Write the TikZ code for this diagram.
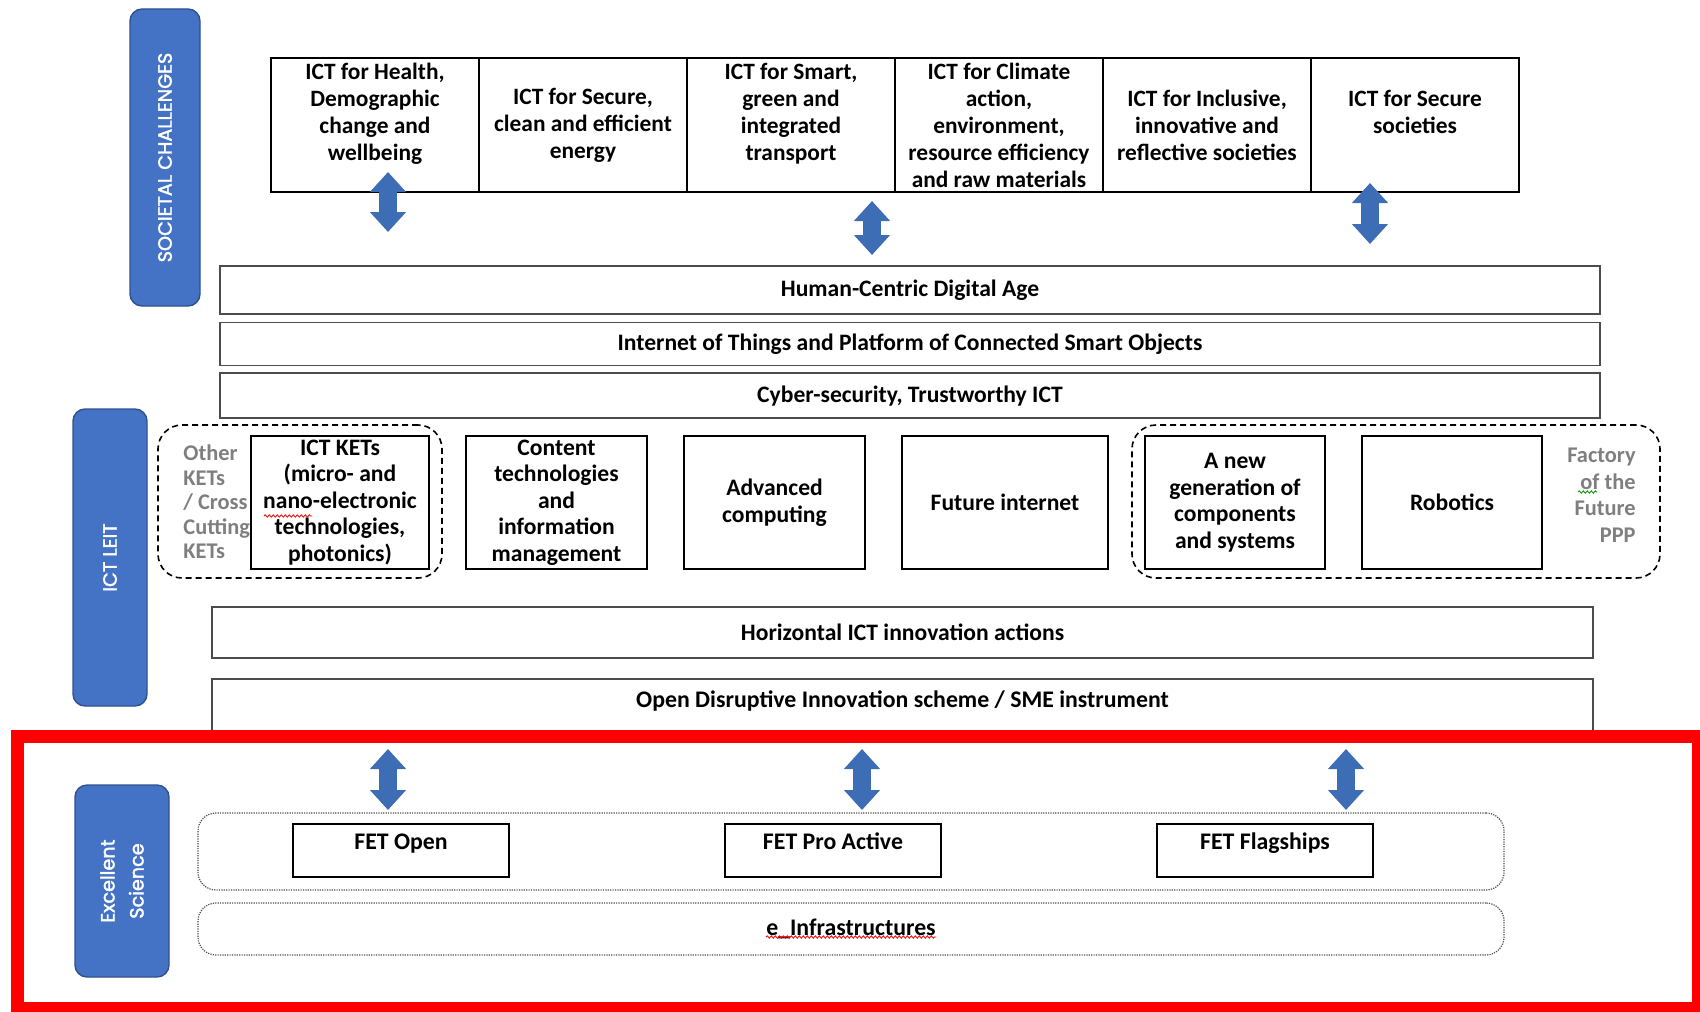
\documentclass[tikz,border=0pt]{standalone}
\usepackage{fontspec}
\setmainfont{Carlito}
\newfontfamily\pillarfont{Poppins}[FakeBold=2]
\usepackage{tikz}
\usetikzlibrary{positioning, arrows.meta, decorations.pathmorphing}

\definecolor{pillarblue}{HTML}{4472C4}
\definecolor{pillarline}{HTML}{2F528F}
\definecolor{arrowblue}{HTML}{3D6DB5}
\definecolor{notegray}{HTML}{7F7F7F}

\begin{document}
\begin{tikzpicture}[x=0.5pt, y=-0.5pt, node distance=18.5pt,
    pillar/.style={draw=pillarline, fill=pillarblue, line width=0.7pt, rounded corners=6pt,
      rotate=90, text=white, align=center, inner sep=0pt, font=\pillarfont\fontsize{9.6}{14.5}\selectfont},
    chcell/.style={draw, line width=0.7pt, outer sep=0pt, inner sep=0pt, minimum width=104pt,
      minimum height=67pt, align=center, font=\bfseries\fontsize{11.7}{13.5}\selectfont},
    bar/.style={draw=black!70, line width=0.8pt, inner sep=0pt, minimum width=690pt,
      font=\bfseries\fontsize{11.8}{13.5}\selectfont},
    leitbox/.style={draw, line width=0.7pt, outer sep=0pt, inner sep=0pt, minimum width=90pt, minimum height=66.5pt,
      align=center, font=\bfseries\fontsize{11.8}{13.25}\selectfont},
    group/.style={draw, dashed, line width=0.8pt, dash pattern=on 3pt off 2pt, rounded corners=12pt},
    note/.style={text=notegray, inner sep=0pt, font=\bfseries\fontsize{11.2}{13.25}\selectfont},
    fetgroup/.style={draw=black!70, line width=0.6pt, dash pattern=on 0.6pt off 0.6pt, rounded corners=9pt, minimum width=653pt},
    fetbox/.style={draw, line width=0.7pt, outer sep=0pt, inner sep=0pt, minimum width=108pt, minimum height=26.5pt},
    boxtext/.style={inner sep=0pt, font=\bfseries\fontsize{11.9}{13.5}\selectfont},
    updown/.style={arrowblue, line width=9pt, {Triangle[length=10pt,width=17.5pt]}-{Triangle[length=10pt,width=17.5pt]}},
    spell/.style={line width=0.4pt, decorate, decoration={snake, amplitude=0.6pt, segment length=2pt}}]
  \useasboundingbox (0,0) rectangle (1700,1011);

  % pillars
  \node[pillar, minimum width=148.5pt, minimum height=35pt] (societal) at (165,157.5) {SOCIETAL CHALLENGES};
  \node[pillar, minimum width=148.5pt, minimum height=37pt] (leit) at (110,557.5) {ICT LEIT};
  \node[pillar, minimum width=96pt, minimum height=47pt] (science) at (122,881) {Excellent\\Science};

  % societal challenges
  \node[chcell] (health) at (375,125) {ICT for Health,\\Demographic\\change and\\wellbeing\\\mbox{}};
  \node[chcell, right=0pt of health] (energy) {ICT for Secure,\\clean and efficient\\energy};
  \node[chcell, right=0pt of energy] (transport) {ICT for Smart,\\green and\\integrated\\transport\\\mbox{}};
  \node[chcell, right=0pt of transport] (climate) {ICT for Climate\\action,\\environment,\\resource efficiency\\and raw materials};
  \node[chcell, right=0pt of climate] (inclusive) {ICT for Inclusive,\\innovative and\\reflective societies};
  \node[chcell, right=0pt of inclusive] (secure) {ICT for Secure\\societies\\\mbox{}};

  % horizontal layers
  \node[bar, minimum height=24pt] (human) at (910,290) {Human-Centric Digital Age};
  \node[bar, minimum height=21.5pt, below=3.5pt of human] (iot) {Internet of Things and Platform of Connected Smart Objects};
  \node[bar, minimum height=22.5pt, below=3pt of iot] (cyber) {Cyber-security, Trustworthy ICT};

  \coordinate (sc1t) at (388,172);  \coordinate (sc1b) at (388,232);
  \coordinate (sc2t) at (872,201);  \coordinate (sc2b) at (872,255);
  \coordinate (sc3t) at (1370,183); \coordinate (sc3b) at (1370,244);
  \draw[updown] (sc1t) -- (sc1b);
  \draw[updown] (sc2t) -- (sc2b);
  \draw[updown] (sc3t) -- (sc3b);

  % ICT LEIT
  \node[group, minimum width=142pt, minimum height=76.5pt] (ketsgroup) at (300,501.5) {};
  \node[group, minimum width=264pt, minimum height=76.5pt] (fofgroup) at (1396,501.5) {};
  \node[leitbox, minimum width=89pt] (kets) at (340,502.5) {ICT KETs\\(micro- and\\nano-electronic\\technologies,\\photonics)};
  \node[leitbox, minimum width=90.5pt, right=of kets] (content) {Content\\technologies\\and\\information\\management};
  \node[leitbox, minimum width=90.5pt, right=of content] (computing) {Advanced\\computing};
  \node[leitbox, minimum width=103pt, right=of computing] (internet) {Future internet};
  \node[leitbox, right=of internet] (components) {A new\\generation of\\components\\and systems};
  \node[leitbox, right=of components] (robotics) {Robotics};
  \node[note, anchor=west, align=left, font=\bfseries\fontsize{11.2}{12.2}\selectfont] (otherkets) at (183,502) {Other\\KETs\\/ Cross\\Cutting\\KETs};
  \node[note, anchor=east, align=right] (fof) at (1636,495) {Factory\\of the\\Future\\PPP};

  \node[bar, minimum width=690.5pt, minimum height=25.5pt] (horizontal) at (902.5,632.5) {Horizontal ICT innovation actions};
  \node[bar, minimum width=690.5pt, minimum height=29.5pt] (open) at (902.5,708.5) {};
  \node[boxtext] (opentext) at ([yshift=-11.5pt]open.north) {Open Disruptive Innovation scheme / SME instrument};

  % excellent science
  \draw[red, line width=6.5pt] (17.5,736) rectangle (1698.5,1008.5);
  \node[fetgroup, minimum height=38.5pt] (fet) at (851,851.5) {};
  \node[fetgroup, minimum height=26pt] (infra) at (851,929) {};
  \node[fetbox] (fetopen) at (401,850.5) {};
  \node[fetbox, right=108pt of fetopen] (fetpro) {};
  \node[fetbox, right=108pt of fetpro] (fetflag) {};
  \node[boxtext, anchor=base] at ([yshift=-12.5pt]fetopen.north) {FET Open};
  \node[boxtext, anchor=base] at ([yshift=-12.5pt]fetpro.north) {FET Pro Active};
  \node[boxtext, anchor=base] at ([yshift=-12.5pt]fetflag.north) {FET Flagships};
  \node[boxtext] (infratext) at (infra.center) {e\_Infrastructures};

  \coordinate (es1t) at (388,749);  \coordinate (es1b) at (388,810);
  \coordinate (es2t) at (862,749);  \coordinate (es2b) at (862,810);
  \coordinate (es3t) at (1346,749); \coordinate (es3b) at (1346,810);
  \draw[updown] (es1t) -- (es1b);
  \draw[updown] (es2t) -- (es2b);
  \draw[updown] (es3t) -- (es3b);

  % spelling marks
  \draw[spell, red] (264,516) -- (312,516);
  \draw[spell, green!60!black] (1578,492) -- (1597,492);
  \draw[spell, red] (766,937) -- (936,937);
\end{tikzpicture}
\end{document}
